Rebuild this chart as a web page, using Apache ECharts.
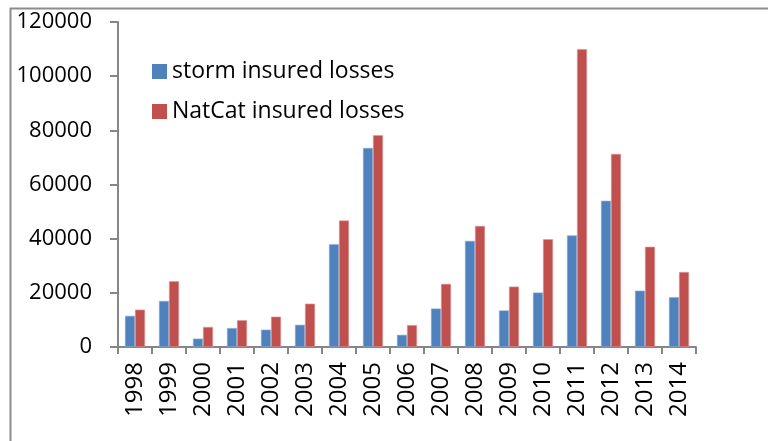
<!DOCTYPE html>
<html>
<head>
<meta charset="utf-8">
<script src="https://cdn.jsdelivr.net/npm/echarts@6/dist/echarts.min.js"></script>
<style>
  html, body { margin: 0; padding: 0; background: #fff; }
  #chart { width: 768px; height: 441px; }
</style>
</head>
<body>
<div id="chart"></div>
<script>
// Insured losses per year
const years = ['1998','1999','2000','2001','2002','2003','2004','2005','2006','2007','2008','2009','2010','2011','2012','2013','2014'];
const stormLosses = [11500, 17000, 3100, 7000, 6400, 8200, 38000, 73500, 4500, 14200, 39200, 13500, 20100, 41200, 54000, 20800, 18400];
const natcatLosses = [13800, 24300, 7400, 9900, 11200, 16000, 46700, 78200, 8100, 23300, 44700, 22300, 39800, 110000, 71300, 37000, 27700];
const seriesNames = ['storm insured losses', 'NatCat insured losses'];

const axisGray = '#868686';
const font = '"Open Sans", "Liberation Sans", sans-serif';

const chart = echarts.init(document.getElementById('chart'), null, { renderer: 'canvas' });
chart.setOption({
  animation: false,
  backgroundColor: '#ffffff',
  graphic: [{
    type: 'rect',
    left: 8, top: 6,
    shape: { width: 800, height: 500 },
    style: { fill: 'none', stroke: '#8c8c8c', lineWidth: 2 },
    z: -1
  }],
  legend: {
    orient: 'vertical',
    left: 147, top: 55,
    itemWidth: 15, itemHeight: 15,
    itemGap: 17,
    icon: 'rect',
    itemStyle: { borderWidth: 0 },
    textStyle: { fontFamily: font, fontSize: 23, color: '#000' },
    data: seriesNames
  },
  grid: { left: 118, right: 72, top: 22, bottom: 94 },
  xAxis: {
    type: 'category',
    data: years,
    axisLine: { lineStyle: { color: axisGray, width: 2 } },
    axisTick: { show: true, length: 7, lineStyle: { color: axisGray, width: 2 } },
    axisLabel: { rotate: 90, margin: 15, fontFamily: font, fontSize: 24, color: '#000' }
  },
  yAxis: {
    type: 'value',
    min: 0, max: 120000, interval: 20000,
    splitLine: { show: false },
    axisLine: { show: true, lineStyle: { color: axisGray, width: 2 } },
    axisTick: { show: true, length: 8, lineStyle: { color: axisGray, width: 2 } },
    axisLabel: { margin: 26, fontFamily: font, fontSize: 22, color: '#000', formatter: v => String(v) }
  },
  series: [
    {
      name: seriesNames[0], type: 'bar', data: stormLosses,
      barGap: '0%', barCategoryGap: '41%',
      itemStyle: { color: '#4F81BD', borderColor: '#8fb0d8', borderWidth: 0.6 }
    },
    {
      name: seriesNames[1], type: 'bar', data: natcatLosses,
      barGap: '0%', barCategoryGap: '41%',
      itemStyle: { color: '#C0504D', borderColor: '#dc9a98', borderWidth: 0.6 }
    }
  ]
});
</script>
</body>
</html>
